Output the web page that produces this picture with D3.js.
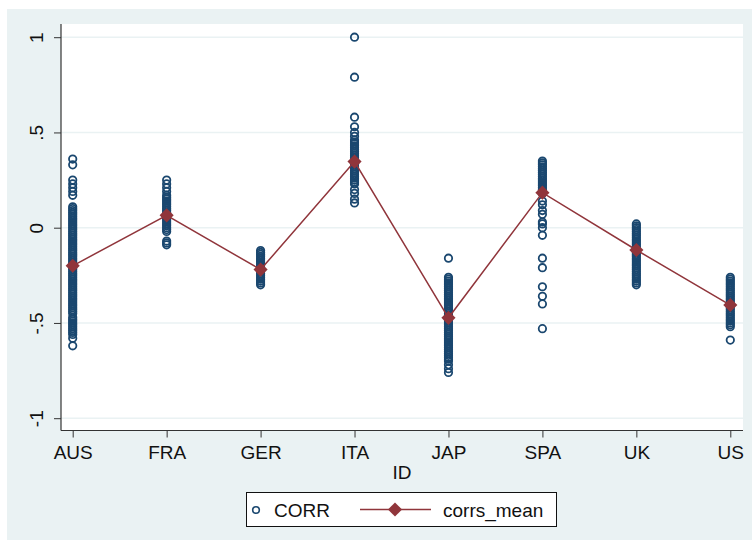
<!DOCTYPE html>
<html><head><meta charset="utf-8">
<script src="https://cdn.jsdelivr.net/npm/d3@7/dist/d3.min.js"></script>
<style>body{margin:0;background:#fff;}text{font-family:"Liberation Sans",Arial,sans-serif;}</style>
</head><body><svg id="c" width="752" height="540"></svg>
<script>
const categories = ["AUS","FRA","GER","ITA","JAP","SPA","UK","US"];
const corrAUS = [0.36,0.33,0.25,0.23,0.21,0.19,0.17,0.11,0.10,0.09,0.08,0.07,0.06,0.05,0.04,0.03,0.02,0.01,0.00,-0.01,-0.02,-0.03,-0.04,-0.05,-0.06,-0.07,-0.08,-0.09,-0.10,-0.11,-0.12,-0.13,-0.14,-0.15,-0.16,-0.17,-0.18,-0.19,-0.20,-0.21,-0.22,-0.23,-0.24,-0.25,-0.26,-0.27,-0.28,-0.29,-0.30,-0.31,-0.32,-0.33,-0.34,-0.35,-0.36,-0.37,-0.38,-0.39,-0.40,-0.41,-0.42,-0.43,-0.44,-0.45,-0.47,-0.48,-0.49,-0.50,-0.51,-0.52,-0.53,-0.54,-0.55,-0.56,-0.58,-0.62];
const corrFRA = [0.25,0.23,0.21,0.19,0.17,0.16,0.15,0.14,0.13,0.12,0.11,0.10,0.09,0.08,0.07,0.06,0.05,0.04,0.03,0.02,0.01,0.00,-0.01,-0.02,-0.07,-0.08,-0.09];
const corrGER = [-0.12,-0.13,-0.14,-0.15,-0.16,-0.17,-0.18,-0.19,-0.20,-0.21,-0.22,-0.23,-0.24,-0.25,-0.26,-0.27,-0.28,-0.29,-0.30];
const corrITA = [1.0,0.79,0.58,0.53,0.50,0.48,0.46,0.45,0.44,0.43,0.42,0.41,0.40,0.39,0.38,0.37,0.36,0.35,0.34,0.33,0.32,0.31,0.30,0.29,0.28,0.27,0.26,0.25,0.24,0.23,0.20,0.18,0.15,0.13];
const corrJAP = [-0.16,-0.26,-0.27,-0.28,-0.29,-0.30,-0.31,-0.32,-0.33,-0.34,-0.35,-0.36,-0.37,-0.38,-0.39,-0.40,-0.41,-0.42,-0.43,-0.44,-0.45,-0.46,-0.47,-0.48,-0.49,-0.50,-0.51,-0.52,-0.53,-0.54,-0.55,-0.56,-0.57,-0.58,-0.59,-0.60,-0.61,-0.62,-0.63,-0.64,-0.65,-0.66,-0.67,-0.68,-0.69,-0.70,-0.72,-0.74,-0.76];
const corrSPA = [0.35,0.34,0.33,0.32,0.31,0.30,0.29,0.28,0.27,0.26,0.25,0.24,0.23,0.22,0.21,0.20,0.19,0.18,0.14,0.12,0.09,0.07,0.03,0.02,0.00,-0.04,-0.16,-0.21,-0.31,-0.36,-0.40,-0.53];
const corrUK = [0.02,0.01,0.00,-0.01,-0.02,-0.03,-0.04,-0.05,-0.06,-0.07,-0.08,-0.09,-0.10,-0.11,-0.12,-0.13,-0.14,-0.15,-0.16,-0.17,-0.18,-0.19,-0.20,-0.21,-0.22,-0.23,-0.24,-0.25,-0.26,-0.27,-0.28,-0.29,-0.30];
const corrUS = [-0.26,-0.27,-0.28,-0.29,-0.30,-0.31,-0.32,-0.33,-0.34,-0.35,-0.36,-0.37,-0.38,-0.39,-0.40,-0.41,-0.42,-0.43,-0.44,-0.45,-0.46,-0.47,-0.48,-0.49,-0.50,-0.51,-0.52,-0.59];
const corrsMean = [-0.20,0.065,-0.22,0.347,-0.473,0.184,-0.117,-0.406];
const yTicks = [-1,-0.5,0,0.5,1];
const yTickLabels = ["-1","-.5","0",".5","1"];

const corrSeries = [corrAUS,corrFRA,corrGER,corrITA,corrJAP,corrSPA,corrUK,corrUS];
const points = [];
corrSeries.forEach((arr,i)=>arr.forEach(v=>points.push({id:categories[i],v})));

const svg = d3.select("#c");
const bg = "#eaf2f3", blue = "#1a476f", red = "#90353b";
const FS = 19;
svg.append("rect").attr("x",7).attr("y",9).attr("width",745).attr("height",531).attr("fill",bg);

const L=61, R=743, T=24, B=430.5;
svg.append("rect").attr("x",L).attr("y",T).attr("width",R-L).attr("height",B-T).attr("fill","#fff");

const x = d3.scalePoint().domain(categories).range([72.7,730.3]);
const y = d3.scaleLinear().domain([-1,1]).range([418.2,37.2]);

// gridlines
svg.append("g").selectAll("line").data(yTicks).join("line")
  .attr("x1",L).attr("x2",R).attr("y1",d=>y(d)).attr("y2",d=>y(d))
  .attr("stroke",bg).attr("stroke-width",1.5);

// axes
const yAxis = d3.axisLeft(y).tickValues(yTicks).tickFormat((d,i)=>yTickLabels[i]).tickSize(7).tickSizeOuter(0);
const gy = svg.append("g").attr("transform",`translate(${L},0)`).call(yAxis);
gy.select(".domain").remove();
gy.append("line").attr("x1",0).attr("x2",0).attr("y1",T).attr("y2",B).attr("stroke","#333").attr("stroke-width",1.2);
gy.selectAll(".tick line").attr("stroke","#333").attr("stroke-width",1);
gy.selectAll(".tick text").attr("fill","#111").attr("font-size",FS)
  .attr("font-family","'Liberation Sans',Arial,sans-serif")
  .attr("x",0).attr("dy",0).attr("text-anchor","middle")
  .attr("transform","translate(-18,0) rotate(-90)");

const xAxis = d3.axisBottom(x).tickSize(7).tickSizeOuter(0);
const gx = svg.append("g").attr("transform",`translate(0,${B})`).call(xAxis);
gx.select(".domain").remove();
gx.append("line").attr("x1",L).attr("x2",R).attr("y1",0).attr("y2",0).attr("stroke","#333").attr("stroke-width",1.2);
gx.selectAll(".tick line").attr("stroke","#333").attr("stroke-width",1);
gx.selectAll(".tick text").attr("fill","#111").attr("font-size",FS)
  .attr("font-family","'Liberation Sans',Arial,sans-serif")
  .attr("dy",0).attr("y",28.5);

svg.append("text").attr("x",(L+R)/2).attr("y",478.5).attr("text-anchor","middle")
  .attr("font-size",FS).attr("fill","#111").text("ID");

// scatter
svg.append("g").selectAll("circle").data(points).join("circle")
  .attr("cx",d=>x(d.id)).attr("cy",d=>y(d.v)).attr("r",3.7)
  .attr("fill","none").attr("stroke",blue).attr("stroke-width",1.8);

// mean line
const meanData = categories.map((c,i)=>({id:c,v:corrsMean[i]}));
svg.append("path").datum(meanData)
  .attr("d",d3.line().x(d=>x(d.id)).y(d=>y(d.v)))
  .attr("fill","none").attr("stroke",red).attr("stroke-width",1.5);
const dia = d3.symbol().type(d3.symbolSquare).size(100);
svg.append("g").selectAll("path").data(meanData).join("path")
  .attr("d",dia).attr("transform",d=>`translate(${x(d.id)},${y(d.v)}) rotate(45)`)
  .attr("fill",red);

// legend
const lg = svg.append("g");
lg.append("rect").attr("x",246.5).attr("y",492.5).attr("width",310).attr("height",34)
  .attr("fill","#fff").attr("stroke","#111").attr("stroke-width",1);
lg.append("circle").attr("cx",256).attr("cy",510).attr("r",3.3).attr("fill","none").attr("stroke",blue).attr("stroke-width",1.6);
lg.append("text").attr("x",274).attr("y",516.5).attr("font-size",FS).attr("fill","#111").text("CORR");
lg.append("line").attr("x1",360).attr("x2",431).attr("y1",509.5).attr("y2",509.5).attr("stroke",red).attr("stroke-width",1.5);
lg.append("path").attr("d",dia).attr("transform","translate(395,509.5) rotate(45)").attr("fill",red);
lg.append("text").attr("x",443).attr("y",516.5).attr("font-size",FS).attr("fill","#111").text("corrs_mean");
</script></body></html>
